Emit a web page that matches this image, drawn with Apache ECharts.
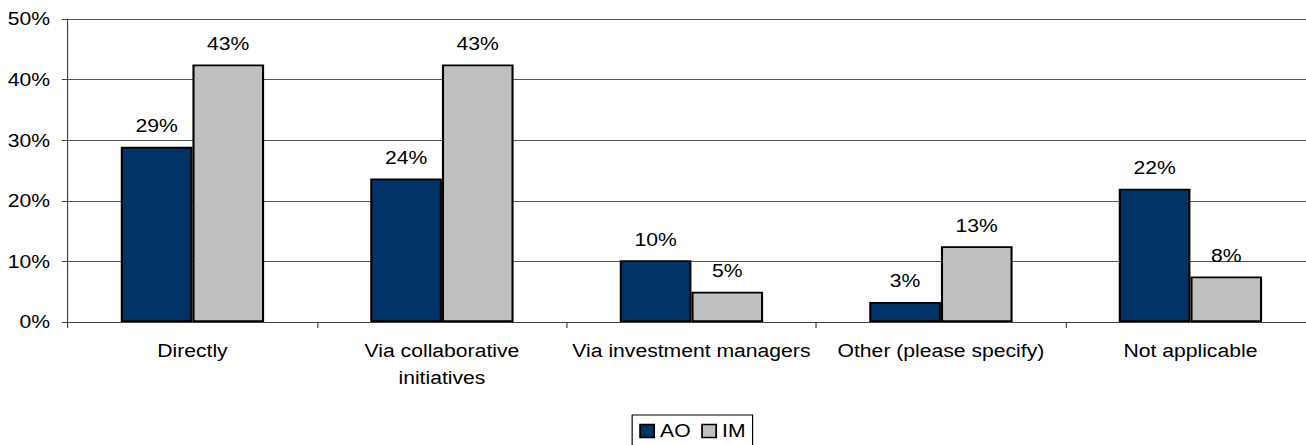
<!DOCTYPE html>
<html>
<head>
<meta charset="utf-8">
<script src="https://cdn.jsdelivr.net/npm/echarts@6/dist/echarts.min.js"></script>
<style>
  html, body { margin: 0; padding: 0; background: #fff; overflow: hidden; }
  #wrap { width: 1306px; height: 445px; overflow: hidden; position: relative; }
  /* the chart is drawn in a narrower space and widened, giving the broad lettering of the layout */
  #chart { width: 1125px; height: 445px; transform: scaleX(1.175); transform-origin: 0 0; }
</style>
</head>
<body>
<div id="wrap"><div id="chart"></div></div>
<script>
// Survey responses by channel, share of respondents (%)
const categories = [
  'Directly',
  'Via collaborative\ninitiatives',
  'Via investment managers',
  'Other (please specify)',
  'Not applicable'
];
const seriesNames = ['AO', 'IM'];
const aoValues = [28.9, 23.7, 10.2, 3.3, 22.0];
const imValues = [42.5, 42.5, 5.0, 12.5, 7.5];
const yTicks = [0, 10, 20, 30, 40, 50];

const FONT = "'Liberation Sans', Arial, Helvetica, sans-serif";
const FONT_SIZE = 18;
const colors = ['#003366', '#C0C0C0'];

const chart = echarts.init(document.getElementById('chart'), null, { renderer: 'svg' });

function barSeries(name, values, color) {
  return {
    name: name,
    type: 'bar',
    data: values,
    barWidth: 61,
    barGap: '0%',
    itemStyle: { color: color, borderColor: '#000', borderWidth: 1.8 },
    label: {
      show: true,
      position: 'top',
      distance: 12,
      fontFamily: FONT,
      fontSize: FONT_SIZE,
      color: '#000',
      formatter: p => Math.round(p.value) + '%'
    },
    emphasis: { disabled: true },
    animation: false
  };
}

chart.setOption({
  animation: false,
  backgroundColor: '#fff',
  textStyle: { fontFamily: FONT },
  grid: { left: 57.6, top: 19, width: 1061.7, height: 303, containLabel: false },
  legend: {
    data: seriesNames,
    left: 538,
    top: 415,
    orient: 'horizontal',
    icon: 'rect',
    itemWidth: 12,
    itemHeight: 13,
    itemGap: 9,
    padding: [7, 6, 10, 6],
    borderColor: '#000',
    borderWidth: 1,
    backgroundColor: '#fff',
    selectedMode: false,
    textStyle: { fontFamily: FONT, fontSize: FONT_SIZE, color: '#000' },
    itemStyle: { borderColor: '#000', borderWidth: 1.5 }
  },
  xAxis: {
    type: 'category',
    data: categories,
    boundaryGap: true,
    axisLine: { show: true, lineStyle: { color: '#404040', width: 1 } },
    axisTick: { show: true, length: 6, lineStyle: { color: '#404040' } },
    axisLabel: {
      fontFamily: FONT,
      fontSize: FONT_SIZE,
      color: '#000',
      margin: 15,
      lineHeight: 27,
      interval: 0
    },
    splitLine: { show: false }
  },
  yAxis: {
    type: 'value',
    min: yTicks[0],
    max: yTicks[yTicks.length - 1],
    interval: 10,
    axisLine: { show: true, lineStyle: { color: '#404040', width: 1 } },
    axisTick: { show: true, length: 5, lineStyle: { color: '#404040' } },
    axisLabel: {
      fontFamily: FONT,
      fontSize: FONT_SIZE,
      color: '#000',
      margin: 15,
      formatter: v => v + '%'
    },
    splitLine: { show: true, lineStyle: { color: '#555', width: 1 } }
  },
  series: [
    barSeries(seriesNames[0], aoValues, colors[0]),
    barSeries(seriesNames[1], imValues, colors[1])
  ]
});
</script>
</body>
</html>
